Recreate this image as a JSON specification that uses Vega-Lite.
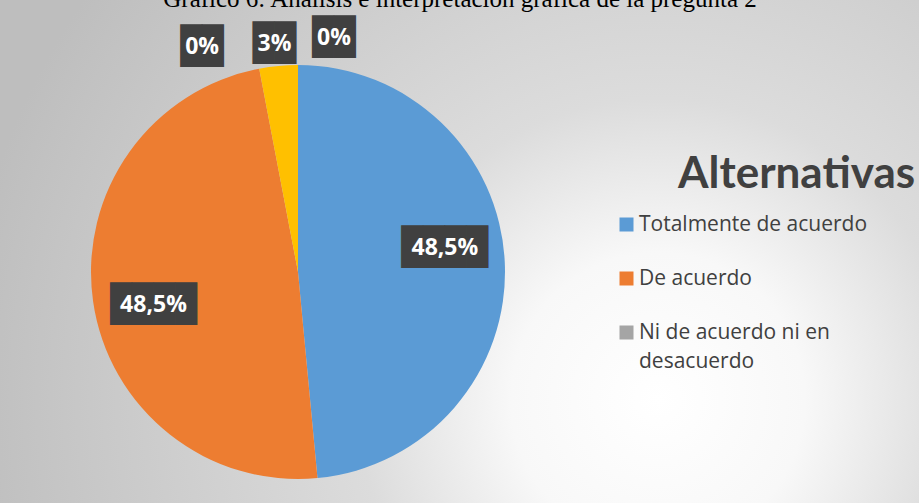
{
  "$schema": "https://vega.github.io/schema/vega-lite/v6.json",
  "width": 414,
  "height": 414,
  "autosize": {"type": "none"},
  "padding": {"left": 91, "top": 65, "right": 414, "bottom": 24},
  "background": "#ffffff",
  "title": {
    "text": "Gráfico 6: Análisis e interpretación gráfica de la pregunta 2",
    "font": "Liberation Serif",
    "fontSize": 25,
    "fontWeight": "normal",
    "color": "#000000",
    "anchor": "middle",
    "dx": 162,
    "offset": -660,
    "baseline": "alphabetic"
  },
  "config": {
    "view": {"stroke": null},
    "style": {"guide-label": {"lineHeight": 29}}
  },
  "datasets": {
    "respuestas": [
      {"alternativa": "Totalmente de acuerdo", "valor": 48.5, "etiqueta": "48,5%", "orden": 1},
      {"alternativa": "De acuerdo", "valor": 48.5, "etiqueta": "48,5%", "orden": 2},
      {"alternativa": "Ni de acuerdo ni en desacuerdo", "valor": 0, "etiqueta": "0%", "orden": 3},
      {"alternativa": "En desacuerdo", "valor": 3, "etiqueta": "3%", "orden": 4},
      {"alternativa": "Totalmente en desacuerdo", "valor": 0, "etiqueta": "0%", "orden": 5}
    ]
  },
  "layer": [
    {
      "data": {"values": [{"fondo": "panel"}]},
      "mark": {
        "type": "arc",
        "theta": 0,
        "theta2": 6.2832,
        "radius": 900,
        "fill": {
          "gradient": "radial",
          "x1": 0.7, "y1": 0.571, "r1": 0,
          "x2": 0.7, "y2": 0.571, "r2": 0.389,
          "stops": [
            {"offset": 0, "color": "#ffffff"},
            {"offset": 0.21, "color": "#f8f8f8"},
            {"offset": 0.43, "color": "#dcdcdc"},
            {"offset": 1, "color": "#bebebe"}
          ]
        }
      },
      "encoding": {}
    },
    {
      "data": {"name": "respuestas"},
      "mark": {"type": "arc", "stroke": null},
      "encoding": {
        "theta": {"field": "valor", "type": "quantitative", "stack": true},
        "order": {"field": "orden", "type": "quantitative"},
        "color": {
          "field": "alternativa",
          "type": "nominal",
          "scale": {
            "domain": ["Totalmente de acuerdo", "De acuerdo", "Ni de acuerdo ni en desacuerdo", "En desacuerdo", "Totalmente en desacuerdo"],
            "range": ["#5B9BD5", "#ED7D31", "#A5A5A5", "#FFC000", "#4472C4"]
          },
          "legend": {
            "title": "Alternativas",
            "orient": "none",
            "legendX": 587,
            "legendY": 88,
            "values": ["Totalmente de acuerdo", "De acuerdo", "Ni de acuerdo ni en desacuerdo"],
            "titleFont": "Lato",
            "titleFontSize": 44,
            "titleFontWeight": "bold",
            "titleColor": "#404040",
            "titleAnchor": "start",
            "titlePadding": 17,
            "titleLimit": 400,
            "labelFont": "Open Sans",
            "labelFontSize": 21,
            "labelColor": "#404040",
            "labelLimit": 400,
            "labelExpr": "datum.label == 'Ni de acuerdo ni en desacuerdo' ? ['Ni de acuerdo ni en', 'desacuerdo'] : datum.label",
            "symbolType": "square",
            "symbolSize": 196,
            "symbolStrokeWidth": 0,
            "symbolOffset": -62,
            "labelOffset": 2,
            "rowPadding": 32,
            "padding": 0
          }
        }
      }
    },
    {
      "data": {"name": "respuestas"},
      "mark": {
        "type": "text",
        "font": "DejaVu Sans Mono",
        "fontSize": 36,
        "fill": "#404040",
        "align": "center",
        "baseline": "middle",
        "radius": {"expr": "datum.orden <= 2 ? 148 : 229"},
        "dx": {"expr": "datum.orden == 1 ? -1 : datum.orden == 2 ? 2 : datum.orden == 3 ? -53 : datum.orden == 4 ? -2 : 36"},
        "dy": {"expr": "datum.orden == 1 ? -17 : datum.orden == 2 ? 12 : datum.orden == 5 ? -5 : 0"}
      },
      "encoding": {
        "theta": {"field": "valor", "type": "quantitative", "stack": true},
        "order": {"field": "orden", "type": "quantitative"},
        "detail": {"field": "alternativa", "type": "nominal"},
        "text": {"condition": {"test": "datum.orden <= 2", "value": "████"}, "value": "██"}
      }
    },
    {
      "data": {"name": "respuestas"},
      "mark": {
        "type": "text",
        "font": "Open Sans",
        "fontSize": 23,
        "fontWeight": "bold",
        "fill": "#ffffff",
        "align": "center",
        "baseline": "middle",
        "radius": {"expr": "datum.orden <= 2 ? 148 : 229"},
        "dx": {"expr": "datum.orden == 1 ? -1 : datum.orden == 2 ? 2 : datum.orden == 3 ? -53 : datum.orden == 4 ? -2 : 36"},
        "dy": {"expr": "datum.orden == 1 ? -17 : datum.orden == 2 ? 12 : datum.orden == 5 ? -5 : 0"}
      },
      "encoding": {
        "theta": {"field": "valor", "type": "quantitative", "stack": true},
        "order": {"field": "orden", "type": "quantitative"},
        "detail": {"field": "alternativa", "type": "nominal"},
        "text": {"field": "etiqueta", "type": "nominal"}
      }
    }
  ]
}
